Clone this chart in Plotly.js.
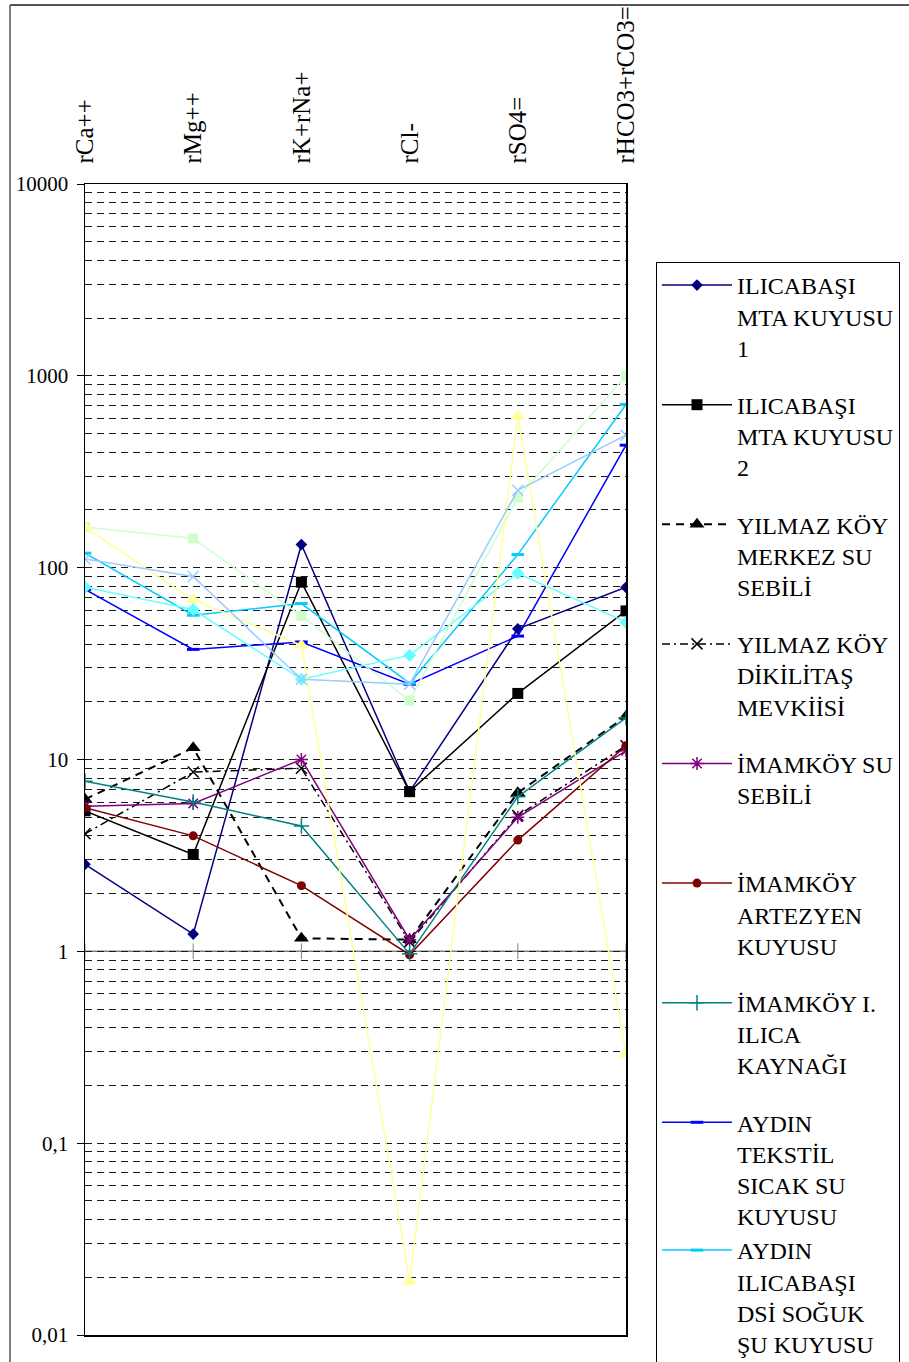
<!DOCTYPE html>
<html>
<head>
<meta charset="utf-8">
<script src="https://cdn.plot.ly/plotly-3.0.1.min.js"></script>
<style>html,body{margin:0;padding:0;background:#fff;}#chart{width:909px;height:1362px;}</style>
</head>
<body>
<div id="chart"></div>
<script>
// ---- data ----
var categories = ['rCa++', 'rMg++', 'rK+rNa+', 'rCl-', 'rSO4=', 'rHCO3+rCO3='];

var ilicabasiMta1   = [2.84, 1.23, 132, 6.8, 48, 79];
var ilicabasiMta2   = [5.4, 3.2, 84, 6.8, 22.1, 59.5];
var yilmazMerkez    = [6.2, 11.5, 1.17, 1.15, 6.7, 16.8];
var yilmazDikilitas = [4.1, 8.6, 9.0, 1.12, 5.1, 11.8];
var imamkoySebil    = [5.7, 5.9, 10.0, 1.15, 5.0, 11.1];
var imamkoyArtezyen = [5.6, 4.0, 2.2, 0.96, 3.8, 11.8];
var imamkoyIlica    = [7.7, 6.0, 4.5, 0.97, 6.4, 16.5];
var aydinTekstil    = [77, 37.5, 41, 24.7, 44, 435];
var aydinDsi        = [119, 56.5, 65, 25, 117, 710];
var seri10          = [79, 60.5, 26.2, 35, 93.5, 52];
var seri11          = [163, 142, 56, 20.3, 232, 1000];
var seri12          = [162, 68, 39.4, 0.019, 615, 0.29];
var seri13          = [111, 90, 26.2, 24.7, 253, 490];

var seriesNames = [
  'ILICABAŞI<br>MTA KUYUSU<br>1',
  'ILICABAŞI<br>MTA KUYUSU<br>2',
  'YILMAZ KÖY<br>MERKEZ SU<br>SEBİLİ',
  'YILMAZ KÖY<br>DİKİLİTAŞ<br>MEVKİİSİ',
  'İMAMKÖY SU<br>SEBİLİ<br>&nbsp;',
  'İMAMKÖY<br>ARTEZYEN<br>KUYUSU',
  'İMAMKÖY I.<br>ILICA<br>KAYNAĞI',
  'AYDIN<br>TEKSTİL<br>SICAK SU<br>KUYUSU',
  'AYDIN<br>ILICABAŞI<br>DSİ SOĞUK<br>ŞU KUYUSU',
  'Seri 10', 'Seri 11', 'Seri 12', 'Seri 13'
];
var seriesValues = [ilicabasiMta1, ilicabasiMta2, yilmazMerkez, yilmazDikilitas, imamkoySebil,
  imamkoyArtezyen, imamkoyIlica, aydinTekstil, aydinDsi, seri10, seri11, seri12, seri13];

// ---- styles ----
var styles = [
  {color: '#000080', symbol: 'diamond', size: 9, dash: 'solid', width: 1.5},
  {color: '#000000', symbol: 'square', size: 11, dash: 'solid', width: 1.5},
  {color: '#000000', symbol: 'triangle-up', size: 13, dash: '8px,6px', width: 2},
  {color: '#000000', symbol: 'x-thin-open', size: 11, dash: '8px,4px,2px,4px', width: 1.5, mline: 1.5},
  {color: '#800080', symbol: 'asterisk-open', size: 11, dash: 'solid', width: 1.5, mline: 1.5},
  {color: '#800000', symbol: 'circle', size: 9, dash: 'solid', width: 1.5},
  {color: '#008080', symbol: 'cross-thin-open', size: 11, dash: 'solid', width: 1.5, mline: 1.5},
  {color: '#0000FF', symbol: 'line-ew-open', size: 9, dash: 'solid', width: 1.5, mline: 3},
  {color: '#00CCFF', symbol: 'line-ew-open', size: 9, dash: 'solid', width: 1.5, mline: 3},
  {color: '#66FFFF', symbol: 'diamond', size: 10, dash: 'solid', width: 1.5},
  {color: '#CCFFCC', symbol: 'square', size: 10, dash: 'solid', width: 1.5},
  {color: '#FFFF99', symbol: 'triangle-up', size: 13, dash: 'solid', width: 1.5},
  {color: '#99CCFF', symbol: 'x-thin-open', size: 11, dash: 'solid', width: 1.5, mline: 1.5}
];

var traces = seriesValues.map(function (vals, i) {
  var st = styles[i];
  var m = {symbol: st.symbol, size: st.size, color: st.color};
  if (st.mline) m.line = {color: st.color, width: st.mline};
  return {
    type: 'scatter', mode: 'lines+markers',
    x: categories, y: vals, name: seriesNames[i],
    line: {color: st.color, width: st.width, dash: st.dash},
    marker: m,
    showlegend: i < 9,
    legendgroup: i < 7 ? 'g' + i : 'g7'
  };
});

// grid values derived from axis decades
var decades = [0.01, 0.1, 1, 10, 100, 1000, 10000];
var minorVals = [];
decades.slice(0, -1).forEach(function (d) {
  for (var k = 2; k <= 9; k++) minorVals.push(k * d);
});

var shapes = [
  {type: 'line', xref: 'paper', yref: 'y', x0: 0, x1: 1, y0: 1, y1: 1,
   line: {color: '#808080', width: 1.5}, layer: 'between'},
  // outer frame
  {type: 'line', xref: 'paper', yref: 'paper', x0: -0.1386, x1: -0.1386, y0: -0.03, y1: 1.1555,
   line: {color: '#000', width: 1}},
  {type: 'line', xref: 'paper', yref: 'paper', x0: -0.1386, x1: 1.6, y0: 1.1555, y1: 1.1555,
   line: {color: '#555', width: 2}}
];
categories.forEach(function (c, i) {
  shapes.push({type: 'line', xref: 'x', yref: 'y', x0: i, x1: i, y0: 0.91, y1: 1.1,
    line: {color: '#808080', width: 1}, layer: 'between'});
});

var serif = 'Liberation Serif';

var layout = {
  width: 909, height: 1362,
  margin: {l: 85, r: 283, t: 184, b: 27},
  paper_bgcolor: '#fff', plot_bgcolor: '#fff',
  font: {family: serif, color: '#000'},
  showlegend: true,
  xaxis: {
    type: 'category', categoryorder: 'array', categoryarray: categories,
    range: [0, 5], side: 'top', tickangle: -90,
    tickfont: {size: 25, family: serif},
    ticks: 'outside', ticklen: 14, tickcolor: 'rgba(0,0,0,0)',
    showgrid: false, zeroline: false,
    showline: true, linecolor: '#000', linewidth: 1.5, mirror: true
  },
  yaxis: {
    type: 'log', range: [-2, 4],
    tickvals: decades, ticktext: ['0,01', '0,1', '1', '10', '100', '1000', '10000'],
    tickfont: {size: 21, family: serif},
    ticks: 'outside', ticklen: 7, tickcolor: '#000', tickwidth: 1,
    ticklabelstandoff: 4,
    showgrid: true, gridcolor: '#1a1a1a', gridwidth: 1, griddash: '7px,5px',
    minor: {tickvals: minorVals, showgrid: true, gridcolor: '#1a1a1a', gridwidth: 1, griddash: '7px,5px', ticks: ''},
    showline: true, linecolor: '#000', linewidth: 1.5, mirror: true,
    zeroline: false
  },
  legend: {
    xref: 'container', yref: 'container', x: 656 / 909, y: 1 - 262 / 1362,
    xanchor: 'left', yanchor: 'top',
    bgcolor: '#fff', bordercolor: '#000', borderwidth: 1,
    font: {size: 24, family: serif, color: '#000'},
    itemwidth: 70, valign: 'top', tracegroupgap: 23,
    traceorder: 'grouped', maxheight: 1300
  },
  shapes: shapes
};

Plotly.newPlot('chart', traces, layout, {displayModeBar: false, staticPlot: true});
</script>
</body>
</html>
